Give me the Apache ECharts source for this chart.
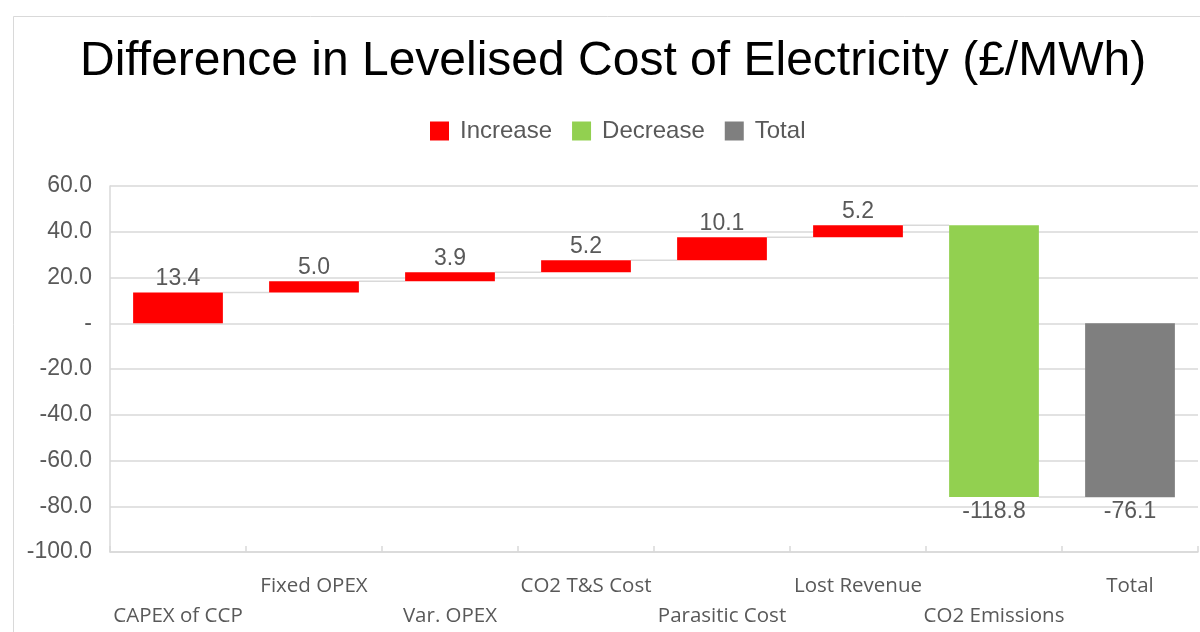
<!DOCTYPE html>
<html>
<head>
<meta charset="utf-8">
<script src="https://cdn.jsdelivr.net/npm/echarts@6/dist/echarts.min.js"></script>
<style>html,body{margin:0;padding:0;background:#fff}#c{width:1200px;height:632px}</style>
</head>
<body>
<div id="c"></div>
<script>
const categories = ['CAPEX of CCP','Fixed OPEX','Var. OPEX','CO2 T&S Cost','Parasitic Cost','Lost Revenue','CO2 Emissions','Total'];
const deltas = [13.4, 5.0, 3.9, 5.2, 10.1, 5.2, -118.8, -76.1];
const kinds = ['Increase','Increase','Increase','Increase','Increase','Increase','Decrease','Total'];
const yTicks = [-100, -80, -60, -40, -20, 0, 20, 40, 60];

const colors = {Increase:'#ff0000', Decrease:'#92d050', Total:'#7f7f7f'};

// build floating bar ranges
const ranges = [];
let cum = 0;
for (let i = 0; i < deltas.length; i++) {
  if (kinds[i] === 'Total') {
    ranges.push([0, deltas[i]]);
  } else {
    const s = cum; cum = +(cum + deltas[i]).toFixed(1);
    ranges.push([s, cum]);
  }
}
const connectors = [];
for (let i = 0; i < ranges.length - 1; i++) {
  connectors.push([i, ranges[i][1]]);
}

const BAR_RATIO = 0.66;
const LABEL_FONT = '23px "Liberation Sans", Arial, sans-serif';
function barSeries(kind) {
  const data = [];
  ranges.forEach((r, i) => { if (kinds[i] === kind) data.push([i, r[0], r[1], deltas[i]]); });
  return {
    name: kind, type: 'custom', z: 3,
    itemStyle: {color: colors[kind]},
    encode: {x: 0, y: [1, 2]},
    data: data,
    renderItem: function (params, api) {
      const i = api.value(0), s = api.value(1), e = api.value(2), v = api.value(3);
      const p1 = api.coord([i, s]), p2 = api.coord([i, e]);
      const w = api.size([1, 0])[0] * BAR_RATIO;
      const top = Math.min(p1[1], p2[1]), bot = Math.max(p1[1], p2[1]);
      const labelBelow = v < 0;
      return {
        type: 'group',
        children: [
          {type: 'rect', shape: {x: p1[0] - w / 2, y: top, width: w, height: bot - top},
           style: {fill: colors[kind]}},
          {type: 'text', style: {
            text: v.toFixed(1), x: p1[0], y: labelBelow ? bot + 3 : top - 2,
            align: 'center', verticalAlign: labelBelow ? 'top' : 'bottom',
            fill: '#595959', font: LABEL_FONT}}
        ]
      };
    }
  };
}

const option = {
  animation: false,
  backgroundColor: '#ffffff',
  title: {
    text: 'Difference in Levelised Cost of Electricity (£/MWh)',
    left: 75, top: 33,
    textStyle: {fontFamily: '"Liberation Sans", Arial, sans-serif', fontSize: 48, fontWeight: 'normal', color: '#000000'}
  },
  legend: {
    top: 119, left: 430, padding: 0, itemWidth: 19, itemHeight: 19, itemGap: 20, icon: 'rect',
    data: ['Increase','Decrease','Total'],
    textStyle: {fontFamily: '"Liberation Sans", Arial, sans-serif', fontSize: 24, color: '#595959', padding: [0,0,0,6]}
  },
  grid: {left: 110, right: 2, top: 186, bottom: 80},
  xAxis: {
    type: 'category', data: categories,
    axisLine: {onZero: false, lineStyle: {color: '#d9d9d9', width: 1.5}},
    axisTick: {show: true, inside: true, length: 6, alignWithLabel: false, lineStyle: {color: '#d9d9d9', width: 1.5}},
    axisLabel: {
      interval: 0, margin: 19, lineHeight: 30,
      fontFamily: '"Open Sans", "Noto Sans", sans-serif', fontSize: 20.5, color: '#595959',
      formatter: function (v, idx) { return idx % 2 === 0 ? '\n' + v : v; }
    }
  },
  yAxis: {
    type: 'value', min: -100, max: 60, interval: 20,
    axisLine: {show: true, lineStyle: {color: '#d9d9d9', width: 1.5}},
    axisTick: {show: false},
    splitLine: {lineStyle: {color: '#d9d9d9', width: 1.5}},
    axisLabel: {
      margin: 18, fontFamily: '"Liberation Sans", Arial, sans-serif', fontSize: 23, color: '#595959',
      formatter: function (v) { return v === 0 ? '-' : v.toFixed(1); }
    }
  },
  graphic: [{
    type: 'rect', left: 11, top: 14, z: -1, silent: true,
    shape: {width: 1300, height: 800},
    style: {fill: 'none', stroke: '#d9d9d9', lineWidth: 1}
  }],
  series: [
    barSeries('Increase'),
    barSeries('Decrease'),
    barSeries('Total'),
    {
      name: 'connectors', type: 'custom', z: 2, silent: true,
      encode: {x: 0, y: 1},
      data: connectors,
      renderItem: function (params, api) {
        const i = api.value(0), lv = api.value(1);
        const a = api.coord([i, lv]), b = api.coord([i + 1, lv]);
        const w = api.size([1, 0])[0] * BAR_RATIO;
        return {type: 'line', shape: {x1: a[0] + w / 2, y1: a[1], x2: b[0] - w / 2, y2: b[1]},
          style: {stroke: '#d9d9d9', lineWidth: 1.5}};
      }
    }
  ]
};
const chart = echarts.init(document.getElementById('c'), null, {renderer: 'canvas'});
chart.setOption(option);
</script>
</body>
</html>
